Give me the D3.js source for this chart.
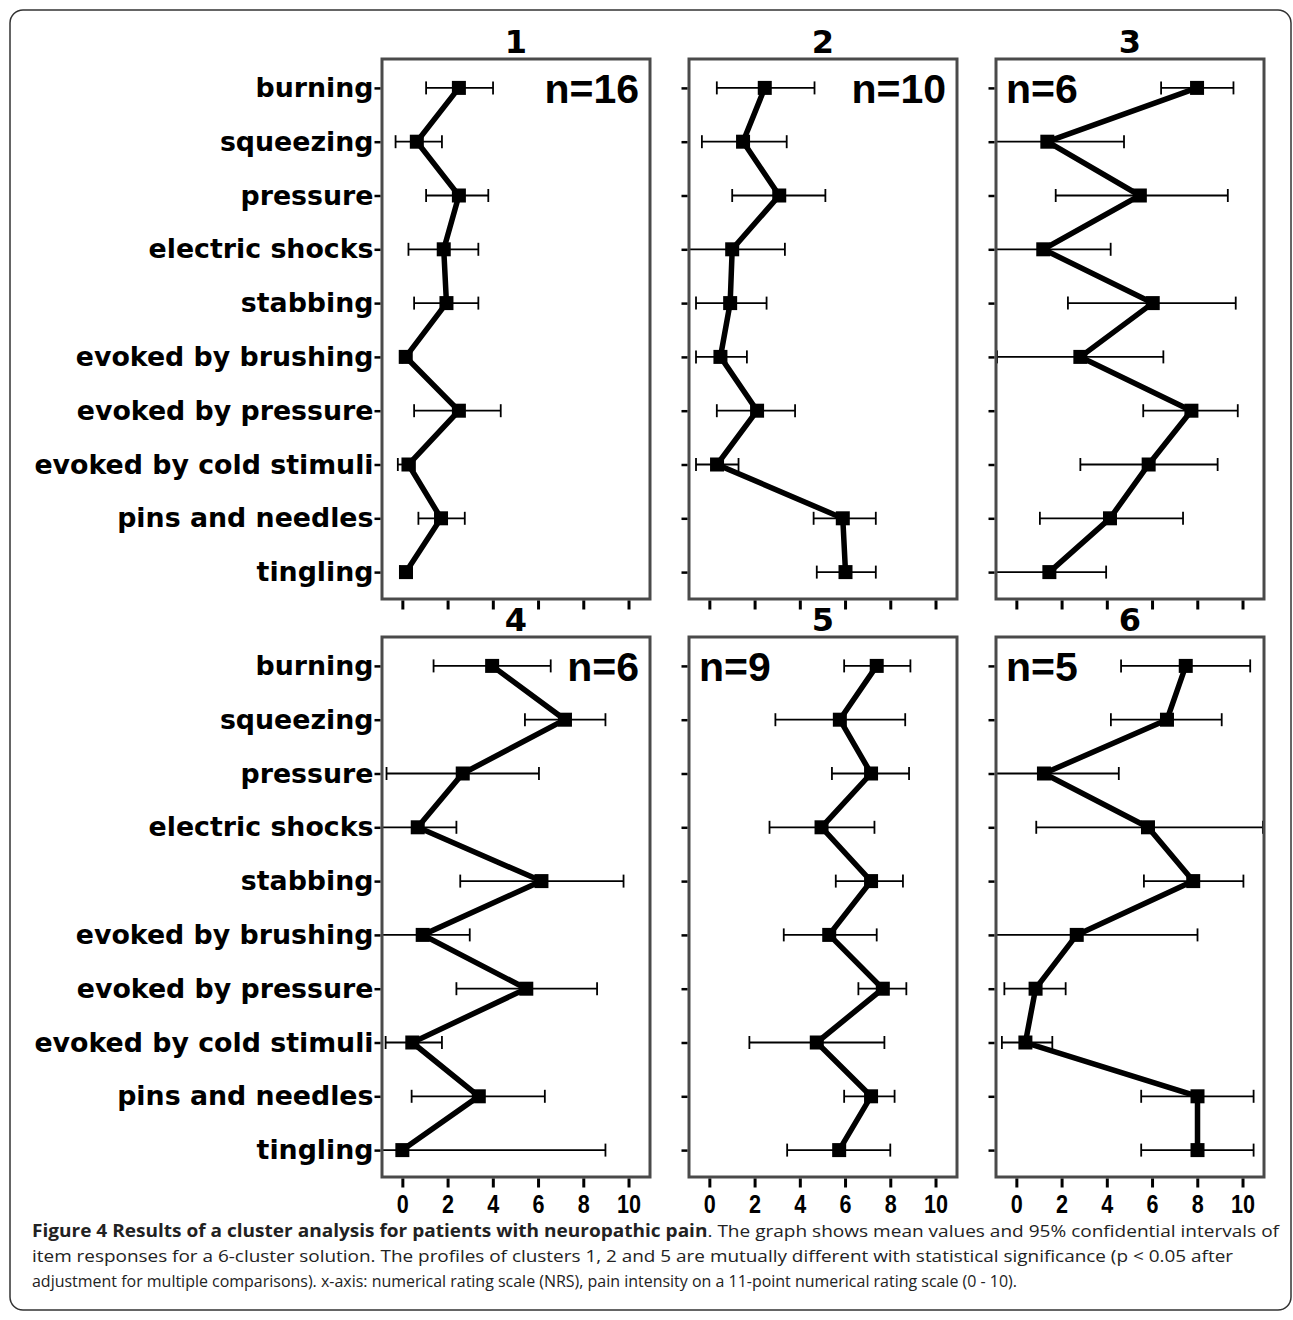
<!DOCTYPE html>
<html><head><meta charset="utf-8">
<script src="https://cdn.jsdelivr.net/npm/d3@7"></script>
<style>body{margin:0;background:#fff}svg{display:block}</style>
</head><body><svg id="chart" width="1293" height="1320"></svg>
<script>
const categories = ["burning","squeezing","pressure","electric shocks","stabbing","evoked by brushing","evoked by pressure","evoked by cold stimuli","pins and needles","tingling"];
const clusterTitles = ["1","2","3","4","5","6"];
const clusterSizes = ["n=16","n=10","n=6","n=6","n=9","n=5"];
const xTicks = [0,2,4,6,8,10];

const c1Mean = [2.50, 0.64, 2.50, 1.83, 1.95, 0.15, 2.50, 0.27, 1.71, 0.16];
const c1Low  = [1.05, -0.30, 1.05, 0.27, 0.52, 0.00, 0.52, -0.20, 0.71, -0.10];
const c1High = [4.01, 1.75, 3.80, 3.36, 3.36, 0.30, 4.35, 0.55, 2.76, 0.42];

const c2Mean = [2.45, 1.49, 3.09, 1.01, 0.92, 0.49, 2.11, 0.34, 5.90, 6.02];
const c2Low  = [0.33, -0.33, 1.01, -1.20, -0.59, -0.59, 0.33, -0.59, 4.61, 4.75];
const c2High = [4.65, 3.42, 5.13, 3.34, 2.53, 1.66, 3.79, 1.29, 7.36, 7.36];

const c3Mean = [7.99, 1.37, 5.46, 1.19, 6.03, 2.83, 7.74, 5.85, 4.14, 1.46];
const c3Low  = [6.40, -1.20, 1.74, -1.20, 2.28, -0.85, 5.61, 2.83, 1.04, -0.90];
const c3High = [9.60, 4.76, 9.35, 4.17, 9.70, 6.50, 9.79, 8.90, 7.37, 3.97];

const c4Mean = [3.97, 7.19, 2.67, 0.68, 6.15, 0.90, 5.48, 0.44, 3.38, 0.00];
const c4Low  = [1.38, 5.42, -0.70, -1.20, 2.56, -1.20, 2.39, -0.74, 0.41, -1.20];
const c4High = [6.56, 8.98, 6.04, 2.39, 9.78, 2.98, 8.61, 1.75, 6.30, 8.98];

const c5Mean = [7.40, 5.77, 7.15, 4.96, 7.15, 5.30, 7.67, 4.75, 7.15, 5.74];
const c5Low  = [5.96, 2.92, 5.42, 2.66, 5.59, 3.29, 6.59, 1.77, 5.96, 3.44];
const c5High = [8.89, 8.66, 8.83, 7.30, 8.56, 7.40, 8.71, 7.74, 8.19, 8.00];

const c6Mean = [7.49, 6.66, 1.22, 5.82, 7.82, 2.67, 0.85, 0.40, 8.01, 8.01];
const c6Low  = [4.63, 4.18, -1.20, 0.88, 5.64, -1.20, -0.53, -0.64, 5.52, 5.52];
const c6High = [10.34, 9.08, 4.53, 10.90, 10.04, 8.01, 2.18, 1.59, 10.49, 10.49];

const captionBold = "Figure 4 Results of a cluster analysis for patients with neuropathic pain";
const captionLine1 = ". The graph shows mean values and 95% confidential intervals of";
const captionLine2 = "item responses for a 6-cluster solution. The profiles of clusters 1, 2 and 5 are mutually different with statistical significance (p < 0.05 after";
const captionLine3 = "adjustment for multiple comparisons). x-axis: numerical rating scale (NRS), pain intensity on a 11-point numerical rating scale (0 - 10).";

const means = [c1Mean, c2Mean, c3Mean, c4Mean, c5Mean, c6Mean];
const lows  = [c1Low, c2Low, c3Low, c4Low, c5Low, c6Low];
const highs = [c1High, c2High, c3High, c4High, c5High, c6High];

const svg = d3.select("#chart");
svg.append("rect").attr("x", 10).attr("y", 10).attr("width", 1281).attr("height", 1300)
  .attr("rx", 13).attr("fill", "none").attr("stroke", "#333").attr("stroke-width", 1.5);

const colLeft = [382, 689, 996];
const rowTop = [59, 637];
const pw = 268, ph = 540;
const nAtRight = [true, true, false, true, false, false];

clusterTitles.forEach((title, i) => {
  const col = i % 3, row = Math.floor(i / 3);
  const L = colLeft[col], T = rowTop[row];
  const x = d3.scaleLinear().domain([-0.9, 10.95]).range([L, L + pw]);
  const y = d3.scalePoint().domain(categories).range([T + 2, T + ph]).padding(0.5);
  const g = svg.append("g");

  const clipId = "clip" + i;
  svg.append("clipPath").attr("id", clipId).append("rect")
    .attr("x", L).attr("y", T).attr("width", pw).attr("height", ph);
  const pg = g.append("g").attr("clip-path", `url(#${clipId})`);

  const rows = categories.map((c, k) => ({c, m: means[i][k], lo: lows[i][k], hi: highs[i][k]}));

  pg.selectAll(".eb").data(rows).join("line")
    .attr("x1", d => x(d.lo)).attr("x2", d => x(d.hi))
    .attr("y1", d => y(d.c)).attr("y2", d => y(d.c))
    .attr("stroke", "#000").attr("stroke-width", 1.8);
  pg.selectAll(".capL").data(rows).join("line")
    .attr("x1", d => x(d.lo)).attr("x2", d => x(d.lo))
    .attr("y1", d => y(d.c) - 6.5).attr("y2", d => y(d.c) + 6.5)
    .attr("stroke", "#000").attr("stroke-width", 1.8);
  pg.selectAll(".capH").data(rows).join("line")
    .attr("x1", d => x(d.hi)).attr("x2", d => x(d.hi))
    .attr("y1", d => y(d.c) - 6.5).attr("y2", d => y(d.c) + 6.5)
    .attr("stroke", "#000").attr("stroke-width", 1.8);

  pg.append("path").datum(rows)
    .attr("d", d3.line().x(d => x(d.m)).y(d => y(d.c)))
    .attr("fill", "none").attr("stroke", "#000").attr("stroke-width", 5.5).attr("stroke-linejoin", "miter");

  pg.selectAll(".mk").data(rows).join("rect")
    .attr("x", d => x(d.m) - 7).attr("y", d => y(d.c) - 7)
    .attr("width", 14).attr("height", 14).attr("fill", "#000");

  g.append("rect").attr("x", L).attr("y", T).attr("width", pw).attr("height", ph)
    .attr("fill", "none").attr("stroke", "#4a4a4a").attr("stroke-width", 3);

  const ay = d3.axisLeft(y).tickSize(6).tickPadding(1);
  if (col !== 0) ay.tickFormat("");
  const ga = g.append("g").attr("transform", `translate(${L - 1.5},0)`).call(ay);
  ga.select(".domain").remove();
  ga.selectAll(".tick line").attr("stroke", "#000").attr("stroke-width", 2.5);
  ga.selectAll(".tick text").attr("fill", "#000")
    .style("font-family", "'DejaVu Sans', sans-serif").style("font-weight", "bold").style("font-size", "26.8px");

  const ax = d3.axisBottom(x).tickValues(xTicks).tickSize(9).tickPadding(7);
  if (row === 0) ax.tickFormat("");
  const gx = g.append("g").attr("transform", `translate(0,${T + ph + 1.5})`).call(ax);
  gx.select(".domain").remove();
  gx.selectAll(".tick line").attr("stroke", "#000").attr("stroke-width", 3);
  if (row === 1) {
    gx.selectAll(".tick text").attr("fill", "#000")
      .attr("textLength", d => d >= 10 ? 24 : 12).attr("lengthAdjust", "spacingAndGlyphs")
      .style("font-family", "'Liberation Sans', Arial, sans-serif").style("font-weight", "bold").style("font-size", "26px");
  }

  g.append("text").attr("x", L + pw / 2).attr("y", T - 6).attr("text-anchor", "middle")
    .style("font-family", "'DejaVu Sans', sans-serif").style("font-weight", "bold").style("font-size", "32px")
    .text(title);

  g.append("text")
    .attr("x", nAtRight[i] ? L + pw - 11 : L + 10)
    .attr("y", T + 44)
    .attr("text-anchor", nAtRight[i] ? "end" : "start")
    .style("font-family", "'Liberation Sans', Arial, sans-serif").style("font-weight", "bold").style("font-size", "41px")
    .text(clusterSizes[i]);
});

const cap = svg.append("g").style("font-family", "'Open Sans', sans-serif").style("font-size", "17px").attr("fill", "#222");
const t1 = cap.append("text").attr("x", 32).attr("y", 1237)
  .attr("textLength", 1247).attr("lengthAdjust", "spacingAndGlyphs");
t1.append("tspan").style("font-weight", "bold").text(captionBold);
t1.append("tspan").text(captionLine1);
cap.append("text").attr("x", 32).attr("y", 1262).attr("textLength", 1201).attr("lengthAdjust", "spacingAndGlyphs").text(captionLine2);
cap.append("text").attr("x", 32).attr("y", 1287).attr("textLength", 985).attr("lengthAdjust", "spacingAndGlyphs").text(captionLine3);
</script></body></html>
